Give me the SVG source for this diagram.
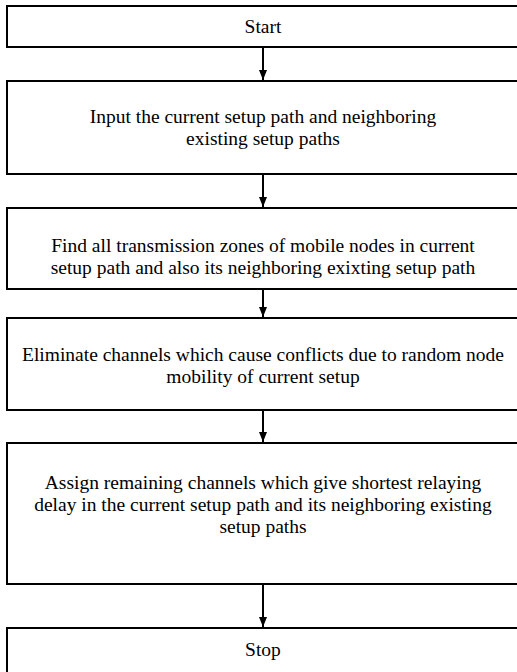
<svg xmlns="http://www.w3.org/2000/svg" width="517" height="672" viewBox="0 0 517 672">
<style>
.box{fill:#fff;stroke:#000;stroke-width:2}
.t{font-family:'Liberation Serif','Times New Roman','DejaVu Serif',serif;font-size:19.5px;fill:#000;text-anchor:middle}
.c{stroke:#000;stroke-width:2;fill:none;marker-end:url(#ah)}
</style>
<defs>
<marker id="ah" markerWidth="10" markerHeight="8" refX="10" refY="4" orient="auto" markerUnits="userSpaceOnUse" viewBox="0 0 10 8">
<path d="M0,0 L10,4 L0,8 Z" fill="#000"/>
</marker>
</defs>
<rect width="517" height="672" fill="#fff"/>
<g id="start"><rect class="box" x="7" y="6" width="520" height="41"/><text class="t" x="263" y="33">Start</text></g>
<g id="input"><rect class="box" x="7" y="81" width="520" height="93"/><text class="t" x="263" y="123">Input the current setup path and neighboring</text><text class="t" x="263" y="145">existing setup paths</text></g>
<g id="find"><rect class="box" x="7" y="208" width="520" height="81"/><text class="t" x="263" y="252">Find all transmission zones of mobile nodes in current</text><text class="t" x="263" y="274">setup path and also its neighboring exixting setup path</text></g>
<g id="eliminate"><rect class="box" x="7" y="318" width="520" height="92"/><text class="t" x="263" y="361">Eliminate channels which cause conflicts due to random node</text><text class="t" x="263" y="383">mobility of current setup</text></g>
<g id="assign"><rect class="box" x="7" y="443" width="520" height="141"/><text class="t" x="263" y="489">Assign remaining channels which give shortest relaying</text><text class="t" x="263" y="511">delay in the current setup path and its neighboring existing</text><text class="t" x="263" y="533">setup paths</text></g>
<g id="stop"><rect class="box" x="7" y="628" width="520" height="50"/><text class="t" x="263" y="656">Stop</text></g>
<g id="connectors">
<line class="c" x1="263" y1="47" x2="263" y2="80"/>
<line class="c" x1="263" y1="174" x2="263" y2="207"/>
<line class="c" x1="263" y1="289" x2="263" y2="317"/>
<line class="c" x1="263" y1="410" x2="263" y2="442"/>
<line class="c" x1="263" y1="584" x2="263" y2="627"/>
</g>
</svg>
